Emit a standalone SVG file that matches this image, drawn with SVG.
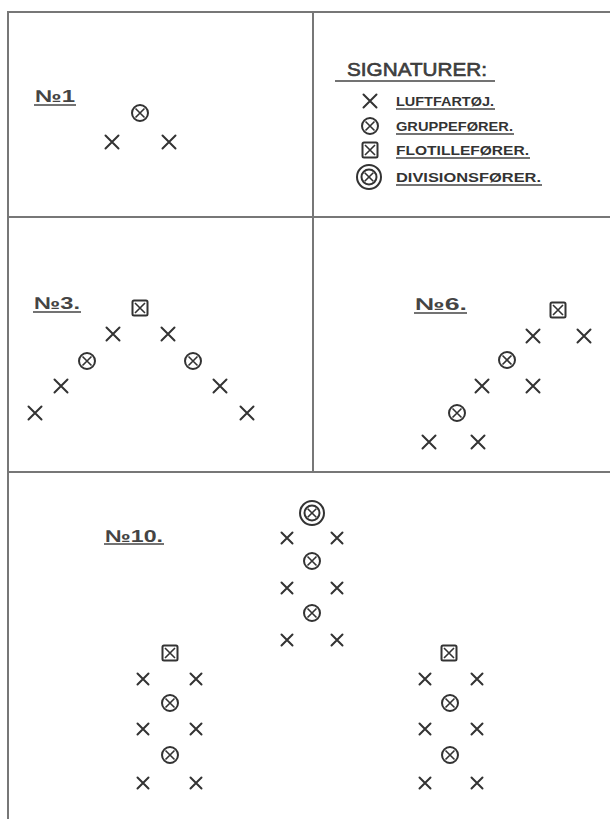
<svg xmlns="http://www.w3.org/2000/svg" xmlns:xlink="http://www.w3.org/1999/xlink" width="610" height="819" viewBox="0 0 610 819">
<style>
.s{fill:none;stroke:#333;stroke-width:2;stroke-linecap:round}
.t{fill:none;stroke:#333;stroke-width:1.6}
.frame{fill:none;stroke:#777;stroke-width:2}
.lbl{font-family:"Liberation Sans",Arial,sans-serif;font-weight:bold;fill:#444;font-size:17px}
.leg{font-family:"Liberation Sans",Arial,sans-serif;font-weight:bold;fill:#333;font-size:13px}
.ul{stroke:#444;stroke-width:1.6}
</style>
<defs>
<g id="x"><path class="s" d="M-6.5,-6.5L6.5,6.5M6.5,-6.5L-6.5,6.5"/></g>
<g id="xs"><path class="s" d="M-5.5,-5.5L5.5,5.5M5.5,-5.5L-5.5,5.5"/></g>
<g id="g"><circle class="s" r="8"/><path class="t" d="M-4.5,-4.5L4.5,4.5M4.5,-4.5L-4.5,4.5"/></g>
<g id="f"><rect class="s" x="-7.5" y="-7.5" width="15" height="15" rx="1.5"/><path class="t" d="M-5,-5L5,5M5,-5L-5,5"/></g>
<g id="d"><circle class="s" r="12"/><circle class="s" r="7.5"/><path class="t" d="M-4.3,-4.3L4.3,4.3M4.3,-4.3L-4.3,4.3"/></g>
</defs>

<g id="frame">
<path class="frame" d="M8,819V12H610"/>
<path class="frame" d="M313,12V472"/>
<path class="frame" d="M8,217H610"/>
<path class="frame" d="M8,472H610"/>
</g>

<g id="legend">
<text class="lbl" x="347" y="76" textLength="140" lengthAdjust="spacingAndGlyphs" style="font-size:19px;font-weight:normal;stroke:#333;stroke-width:0.6">SIGNATURER:</text>
<line class="ul" x1="335" y1="81" x2="495" y2="81"/>
<g id="leg-x"><use href="#x" x="370" y="101"/><text class="leg" x="396" y="106" textLength="98" lengthAdjust="spacingAndGlyphs">LUFTFARTØJ.</text><line class="ul" x1="396" y1="109" x2="495" y2="109"/></g>
<g id="leg-g"><use href="#g" x="370" y="126"/><text class="leg" x="396" y="131" textLength="117" lengthAdjust="spacingAndGlyphs">GRUPPEFØRER.</text><line class="ul" x1="396" y1="134" x2="514" y2="134"/></g>
<g id="leg-f"><use href="#f" x="370" y="150"/><text class="leg" x="396" y="155" textLength="133" lengthAdjust="spacingAndGlyphs">FLOTILLEFØRER.</text><line class="ul" x1="396" y1="158" x2="530" y2="158"/></g>
<g id="leg-d"><use href="#d" x="369" y="177"/><text class="leg" x="396" y="182" textLength="145" lengthAdjust="spacingAndGlyphs">DIVISIONSFØRER.</text><line class="ul" x1="396" y1="185" x2="542" y2="185"/></g>
</g>

<g id="no1">
<text class="lbl" x="35" y="102" textLength="40" lengthAdjust="spacingAndGlyphs">№1</text><line class="ul" x1="34" y1="105" x2="76" y2="105"/>
<g id="no1-g"><use href="#g" x="140" y="113"/></g>
<g id="no1-x1"><use href="#x" x="112" y="142"/></g>
<g id="no1-x2"><use href="#x" x="169" y="142"/></g>
</g>

<g id="no3">
<text class="lbl" x="34" y="309" textLength="46" lengthAdjust="spacingAndGlyphs">№3.</text><line class="ul" x1="33" y1="312" x2="81" y2="312"/>
<g id="no3-f"><use href="#f" x="140" y="308"/></g>
<g id="no3-x1"><use href="#x" x="113" y="334"/></g>
<g id="no3-x2"><use href="#x" x="168" y="334"/></g>
<g id="no3-g1"><use href="#g" x="87" y="361"/></g>
<g id="no3-g2"><use href="#g" x="193" y="361"/></g>
<g id="no3-x3"><use href="#x" x="61" y="386"/></g>
<g id="no3-x4"><use href="#x" x="220" y="386"/></g>
<g id="no3-x5"><use href="#x" x="35" y="413"/></g>
<g id="no3-x6"><use href="#x" x="247" y="413"/></g>
</g>

<g id="no6">
<text class="lbl" x="415" y="310" textLength="52" lengthAdjust="spacingAndGlyphs">№6.</text><line class="ul" x1="414" y1="313" x2="467" y2="313"/>
<g id="no6-f"><use href="#f" x="558" y="310"/></g>
<g id="no6-x1"><use href="#x" x="533" y="336"/></g>
<g id="no6-x2"><use href="#x" x="584" y="336"/></g>
<g id="no6-g1"><use href="#g" x="507" y="360"/></g>
<g id="no6-x3"><use href="#x" x="482" y="386"/></g>
<g id="no6-x4"><use href="#x" x="533" y="386"/></g>
<g id="no6-g2"><use href="#g" x="457" y="413"/></g>
<g id="no6-x5"><use href="#x" x="429" y="442"/></g>
<g id="no6-x6"><use href="#x" x="478" y="442"/></g>
</g>

<g id="no10">
<text class="lbl" x="105" y="542" textLength="58" lengthAdjust="spacingAndGlyphs">№10.</text><line class="ul" x1="104" y1="544" x2="164" y2="544"/>
<g id="no10-d"><use href="#d" x="312" y="513"/></g>
<g id="no10-c-x1"><use href="#xs" x="287" y="538"/></g>
<g id="no10-c-x2"><use href="#xs" x="337" y="538"/></g>
<g id="no10-c-g1"><use href="#g" x="312" y="561"/></g>
<g id="no10-c-x3"><use href="#xs" x="287" y="588"/></g>
<g id="no10-c-x4"><use href="#xs" x="337" y="588"/></g>
<g id="no10-c-g2"><use href="#g" x="312" y="613"/></g>
<g id="no10-c-x5"><use href="#xs" x="287" y="640"/></g>
<g id="no10-c-x6"><use href="#xs" x="337" y="640"/></g>

<g id="no10-l-f"><use href="#f" x="170" y="653"/></g>
<g id="no10-l-x1"><use href="#xs" x="143" y="679"/></g>
<g id="no10-l-x2"><use href="#xs" x="196" y="679"/></g>
<g id="no10-l-g1"><use href="#g" x="170" y="703"/></g>
<g id="no10-l-x3"><use href="#xs" x="143" y="729"/></g>
<g id="no10-l-x4"><use href="#xs" x="196" y="729"/></g>
<g id="no10-l-g2"><use href="#g" x="170" y="755"/></g>
<g id="no10-l-x5"><use href="#xs" x="143" y="783"/></g>
<g id="no10-l-x6"><use href="#xs" x="196" y="783"/></g>

<g id="no10-r-f"><use href="#f" x="449" y="653"/></g>
<g id="no10-r-x1"><use href="#xs" x="425" y="679"/></g>
<g id="no10-r-x2"><use href="#xs" x="477" y="679"/></g>
<g id="no10-r-g1"><use href="#g" x="450" y="703"/></g>
<g id="no10-r-x3"><use href="#xs" x="425" y="729"/></g>
<g id="no10-r-x4"><use href="#xs" x="477" y="729"/></g>
<g id="no10-r-g2"><use href="#g" x="450" y="755"/></g>
<g id="no10-r-x5"><use href="#xs" x="425" y="783"/></g>
<g id="no10-r-x6"><use href="#xs" x="477" y="783"/></g>
</g>
</svg>
